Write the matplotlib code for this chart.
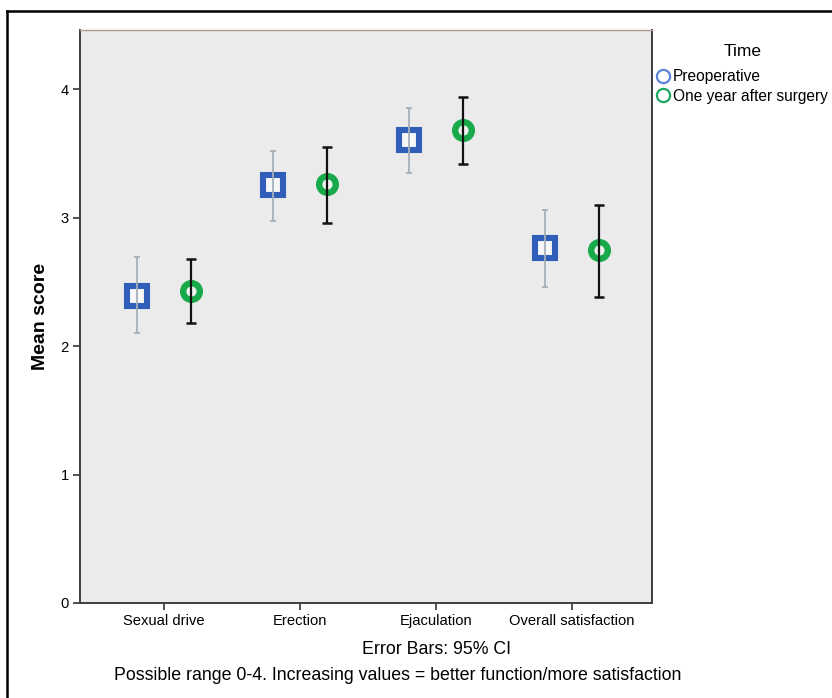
import matplotlib
matplotlib.use("Agg")
import matplotlib.pyplot as plt
from matplotlib.lines import Line2D
import numpy as np

# values
categories = ["Sexual drive", "Erection", "Ejaculation", "Overall satisfaction"]
pre_mean = [2.39, 3.25, 3.60, 2.76]
pre_low = [2.10, 2.97, 3.35, 2.46]
pre_high = [2.69, 3.52, 3.85, 3.06]
post_mean = [2.43, 3.26, 3.68, 2.75]
post_low = [2.18, 2.96, 3.42, 2.38]
post_high = [2.68, 3.55, 3.94, 3.10]
series_names = ["Preoperative", "One year after surgery"]

plt.rcParams["font.family"] = ["Liberation Sans", "DejaVu Sans"]

fig = plt.figure(figsize=(8.32, 6.98), dpi=100)
ax = fig.add_axes([80 / 832, 1 - 603 / 698, 572 / 832, 573 / 698])
ax.set_facecolor("#ebebeb")

x = np.arange(len(categories))
off = 0.2
pre_mean = np.array(pre_mean)
post_mean = np.array(post_mean)
pre_err = [pre_mean - np.array(pre_low), np.array(pre_high) - pre_mean]
post_err = [post_mean - np.array(post_low), np.array(post_high) - post_mean]

# markers below, error bars on top (as in the SPSS output)
ax.plot(x - off, pre_mean, ls="none", marker="s", ms=14.5, mew=4.4,
        mec="#2f5fb8", mfc="#f7f7f7", zorder=2)
ax.plot(x + off, post_mean, ls="none", marker="o", ms=12, mew=4.6,
        mec="#17a94a", mfc="#f0f0f0", zorder=2)
ax.errorbar(x - off, pre_mean, yerr=pre_err, fmt="none", ecolor="#a6afb8",
            elinewidth=1.3, capsize=2.5, capthick=1.3, zorder=3)
ax.errorbar(x + off, post_mean, yerr=post_err, fmt="none", ecolor="#111111",
            elinewidth=1.6, capsize=3.5, capthick=1.8, zorder=3)

ax.set_xlim(-0.62, 3.59)
ax.set_ylim(0, 4.46)
ax.set_xticks(x)
ax.set_xticklabels(categories, fontsize=10.6)
ax.set_yticks([0, 1, 2, 3, 4])
ax.set_yticklabels(["0", "1", "2", "3", "4"], fontsize=10.6)
ax.tick_params(axis="both", length=5, width=1.2, color="#333333", pad=3)
ax.set_ylabel("Mean score", fontsize=14, fontweight="bold", labelpad=8)
for side in ["left", "bottom", "right"]:
    ax.spines[side].set_color("#3a3f44")
    ax.spines[side].set_linewidth(1.4)
ax.spines["top"].set_color("#b09a94")
ax.spines["top"].set_linewidth(1.0)

fig.text(437 / 832, 1 - 650 / 698, "Error Bars: 95% CI", ha="center",
         va="center", fontsize=12.8)
fig.text(398 / 832, 1 - 675 / 698,
         "Possible range 0-4. Increasing values = better function/more satisfaction",
         ha="center", va="center", fontsize=12.8)

handles = [
    Line2D([], [], ls="none", marker="o", ms=9.5, mew=1.6, mfc="none", mec="#5a84d8"),
    Line2D([], [], ls="none", marker="o", ms=9.5, mew=1.6, mfc="none", mec="#1aa860"),
]
leg = fig.legend(handles, series_names, loc="upper left",
                 bbox_to_anchor=(651 / 832, 1 - 38 / 698), frameon=False,
                 title="Time", title_fontsize=12.5, fontsize=11.2,
                 handlelength=0.8, handletextpad=0.2, labelspacing=0.3,
                 borderaxespad=0)
leg._legend_box.sep = 7

# outer frame of the original graphic (cut on the right and bottom)
fig.add_artist(Line2D([7.5 / 832, 7.5 / 832], [0, 1 - 11 / 698], color="black", lw=1.8))
fig.add_artist(Line2D([7.5 / 832, 1], [1 - 11 / 698, 1 - 11 / 698], color="black", lw=1.8))

fig.savefig("out.png", dpi=100)
